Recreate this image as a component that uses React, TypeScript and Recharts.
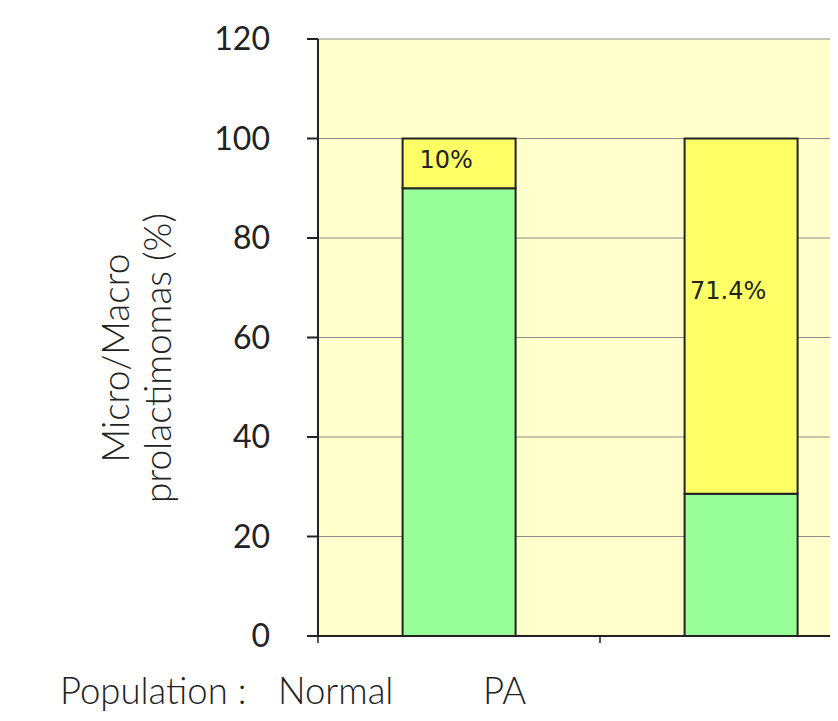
import React from "react";
import { BarChart, Bar, XAxis, YAxis, CartesianGrid, LabelList } from "recharts";

const categories = ["Normal", "PA"];
const microValues = [90, 28.6];
const macroValues = [10, 71.4];
const macroLabels = ["10%", "71.4%"];
const yTicks = [0, 20, 40, 60, 80, 100, 120];
const yAxisTitle = ["Micro/Macro", "prolactimomas (%)"];
const populationTitle = "Population :";
const populationNames = ["Normal", "PA"];

const data = categories.map((c, i) => ({
  name: c,
  idx: i + 0.5,
  micro: microValues[i],
  macro: macroValues[i],
  label: macroLabels[i],
}));

const FONT = "Lato, 'Open Sans', sans-serif";
const INK = "#222";

const YTitle = () => (
  <text
    transform="translate(131, 350) rotate(-90)"
    textAnchor="middle"
    fontFamily={FONT}
    fontSize={37}
    fontWeight={300}
    fill={INK}
  >
    <tspan x={0} dy={-10}>{yAxisTitle[0]}</tspan>
    <tspan x={0} dy={42}>{yAxisTitle[1]}</tspan>
  </text>
);

const BottomTitle = () => (
  <g fontFamily={FONT} fontSize={36.5} fontWeight={300} fill={INK}>
    <text x={52} y={696}>{populationTitle}</text>
    <text x={270} y={696}>{populationNames[0]}</text>
    <text x={475} y={696}>{populationNames[1]}</text>
  </g>
);

const MacroLabel = (props: any) => {
  const { x, y, width, height, value } = props;
  return (
    <text
      x={x + width / 2 - 13}
      y={y + height * 0.43}
      textAnchor="middle"
      dominantBaseline="central"
      fontFamily="'DejaVu Sans', Verdana, sans-serif"
      fontSize={24}
      fill={INK}
    >
      {value}
    </text>
  );
};

export default function App() {
  return (
    <div style={{ width: 830, height: 705, overflow: "hidden" }}>
      <BarChart
        width={900}
        height={705}
        data={data}
        margin={{ top: 31, right: 26, bottom: 0, left: 0 }}
        barCategoryGap="30%"
      >
        <CartesianGrid
          vertical={false}
          horizontal={true}
          stroke="#8c8c8c"
          strokeWidth={1}
          fill="#FFFFCC"
          fillOpacity={1}
          yAxisId="y"
          xAxisId="c"
        />
        <XAxis xAxisId="c" dataKey="name" type="category" orientation="top" hide />
        <XAxis
          xAxisId="t"
          type="number"
          dataKey="idx"
          domain={[0, 2]}
          ticks={[0, 1, 2]}
          tickFormatter={() => ""}
          tickSize={7}
          height={77}
          axisLine={{ stroke: INK, strokeWidth: 2 }}
          tickLine={{ stroke: INK, strokeWidth: 1.5 }}
          label={{ content: () => <BottomTitle /> }}
        />
        <YAxis
          yAxisId="y"
          domain={[0, 120]}
          ticks={yTicks}
          width={310}
          tickSize={11}
          tickMargin={37}
          axisLine={{ stroke: INK, strokeWidth: 2 }}
          tickLine={{ stroke: INK, strokeWidth: 2 }}
          tick={{ fontFamily: FONT, fontSize: 32, fill: INK }}
          interval={0}
          label={{ content: () => <YTitle /> }}
        />
        <Bar
          xAxisId="c"
          yAxisId="y"
          dataKey="micro"
          stackId="s"
          fill="#99FF99"
          stroke={INK}
          strokeWidth={2}
          isAnimationActive={false}
        />
        <Bar
          xAxisId="c"
          yAxisId="y"
          dataKey="macro"
          stackId="s"
          fill="#FFFF66"
          stroke={INK}
          strokeWidth={2}
          isAnimationActive={false}
        >
          <LabelList dataKey="label" content={<MacroLabel />} />
        </Bar>
      </BarChart>
    </div>
  );
}
